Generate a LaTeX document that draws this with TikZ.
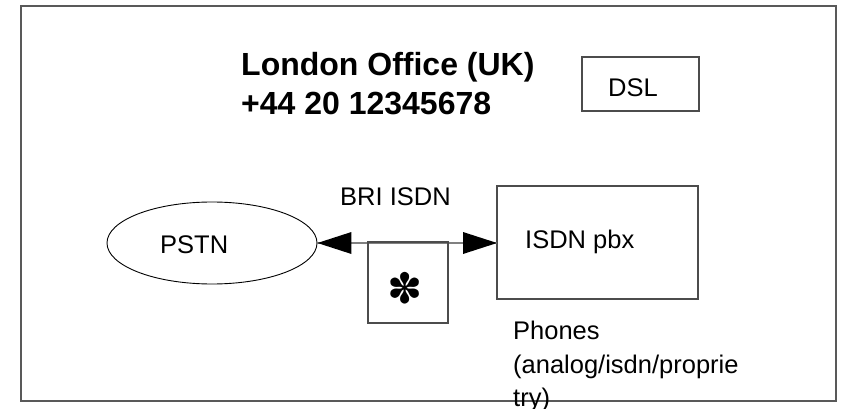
\documentclass[tikz,border=0pt]{standalone}
\usepackage{fontspec}
\setmainfont{Liberation Sans}
\newfontfamily\dingfont{DejaVu Sans}
\usetikzlibrary{shapes.geometric}
\definecolor{framegray}{gray}{0.35}
\definecolor{boxgray}{gray}{0.3}
\definecolor{linegray}{gray}{0.5}
\tikzset{
  labeltext/.style={inner sep=0pt, anchor=base west, font=\fontsize{25.5}{30}\selectfont},
  titletext/.style={inner sep=0pt, anchor=base west, font=\fontsize{32}{36}\selectfont\bfseries},
  plainbox/.style={draw=boxgray, line width=1.2pt},
}
\begin{document}
\begin{tikzpicture}[x=1pt,y=-1pt]
  \useasboundingbox (0,0) rectangle (844,409);
  % outer frame
  \draw[framegray, line width=1.7pt] (21,6) rectangle (836,401);

  % title
  \node[titletext] (title1) at (241,76) {London Office (UK)};
  \node[titletext] (title2) at (241,115) {+44 20 12345678};

  % DSL box
  \draw[plainbox] (582,57) rectangle (699,111);
  \node[labeltext] (dsl) at (608,97) {DSL};

  % PSTN cloud
  \node[draw=black, line width=0.9pt, ellipse, minimum width=210pt, minimum height=82pt, inner sep=0pt] (pstn) at (212,243) {};
  \node[labeltext] (pstnlabel) at (160,254) {PSTN};

  % ISDN pbx box
  \coordinate (pbxnw) at (497,186);
  \coordinate (pbxse) at (698,299);
  \draw[plainbox] (pbxnw) rectangle (pbxse);
  \coordinate (pbxin) at (497,243);
  \node[labeltext] (pbxlabel) at (525,248) {ISDN pbx};

  % BRI link with a filled head at each end
  \draw[linegray, line width=1.4pt] (pstn.east) -- (pbxin);
  \fill[black] (pstn.east) -- ++(34,-11) -- ++(0,22) -- cycle;
  \fill[black] (pbxin) -- ++(-34,-11) -- ++(0,22) -- cycle;
  \node[labeltext] (bri) at (340,206) {BRI ISDN};

  % interface box with asterisk
  \draw[plainbox] (368,242) rectangle (448,323);
  \node[inner sep=0pt, font=\dingfont\fontsize{42}{42}\selectfont] (star) at (405,288) {✽};

  % phones note
  \node[labeltext] (ph1) at (513,339) {Phones};
  \node[labeltext] (ph2) at (513,373) {(analog/isdn/proprie};
  \node[labeltext] (ph3) at (513,406) {try)};
\end{tikzpicture}
\end{document}
